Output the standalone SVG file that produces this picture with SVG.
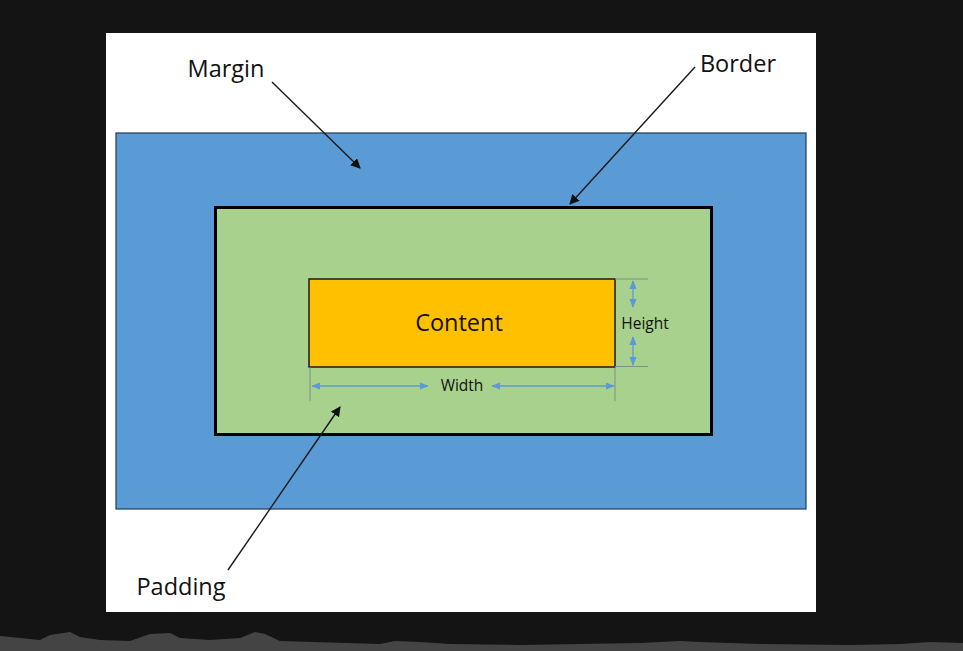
<svg xmlns="http://www.w3.org/2000/svg" width="963" height="651" viewBox="0 0 963 651">
<defs>
<style>
.lbl{font-family:"Open Sans","Noto Sans",sans-serif;fill:#111;}
.big{font-size:23.5px;}
.sm{font-size:15.5px;}
.ptr{stroke:#1a1a1a;stroke-width:1.4;fill:none;marker-end:url(#ah);}
.dim{stroke:#5b9bd5;stroke-width:1.3;fill:none;marker-start:url(#bh);marker-end:url(#bh);}
.ext{stroke:#7f8f7f;stroke-width:1;}
</style>
<marker id="ah" viewBox="0 0 10 10" refX="9" refY="5" markerWidth="10" markerHeight="10" markerUnits="userSpaceOnUse" orient="auto"><path d="M0,0 L10,5 L0,10 z" fill="#111"/></marker>
<marker id="bh" viewBox="0 0 10 10" refX="9" refY="5" markerWidth="9" markerHeight="9" markerUnits="userSpaceOnUse" orient="auto-start-reverse"><path d="M0,1 L10,5 L0,9 z" fill="#5b9bd5"/></marker>
</defs>
<rect x="0" y="0" width="963" height="651" fill="#141414"/>
<path d="M0,636 L20,638 L40,640 L50,635 L70,632 L80,637 L100,640 L130,641 L150,634 L170,633 L180,638 L210,640 L240,638 L255,632 L265,634 L280,641 L380,644 L395,641 L420,642 L450,644 L520,645 L580,644 L640,643 L680,641 L700,642 L760,644 L850,645 L900,644 L930,642 L963,643 L963,651 L0,651 z" fill="#444"/>
<rect x="106" y="33" width="710" height="579" fill="#ffffff"/>
<g id="margin">
<rect x="116" y="133" width="690" height="376" fill="#5b9bd5" stroke="#1f3a5f" stroke-width="1.2"/>
</g>
<g id="border">
<rect x="215.5" y="207.5" width="496" height="227" fill="#a9d18e" stroke="#000" stroke-width="3"/>
</g>
<g id="content">
<rect x="309" y="279" width="306" height="88" fill="#ffc000" stroke="#1a1a1a" stroke-width="1.5"/>
<text class="lbl" x="459" y="331" text-anchor="middle" font-size="23.5px">Content</text>
</g>
<g id="dimensions">
<line class="ext" x1="615" y1="279" x2="648" y2="279"/>
<line class="ext" x1="615" y1="366.5" x2="648" y2="366.5"/>
<line class="dim" x1="633" y1="281" x2="633" y2="307"/>
<line class="dim" x1="633" y1="337" x2="633" y2="365"/>
<text class="lbl sm" x="645" y="329" text-anchor="middle">Height</text>
<line class="ext" x1="310" y1="367" x2="310" y2="401"/>
<line class="ext" x1="615" y1="367" x2="615" y2="401"/>
<line class="dim" x1="312" y1="386" x2="428" y2="386"/>
<line class="dim" x1="492" y1="386" x2="614" y2="386"/>
<text class="lbl sm" x="462" y="391" text-anchor="middle">Width</text>
</g>
<g id="labels">
<text class="lbl big" x="226" y="77" text-anchor="middle">Margin</text>
<text class="lbl big" x="738" y="72" text-anchor="middle">Border</text>
<text class="lbl big" x="181" y="595" text-anchor="middle">Padding</text>
</g>
<g id="connectors">
<line class="ptr" x1="272" y1="82" x2="360" y2="168"/>
<line class="ptr" x1="695" y1="67" x2="570" y2="204"/>
<line class="ptr" x1="228" y1="570" x2="340" y2="407"/>
</g>
</svg>
